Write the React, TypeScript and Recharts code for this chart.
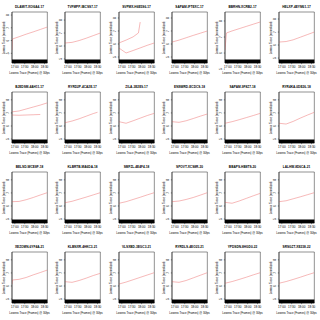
import React from "react";
import { LineChart, Line, XAxis, YAxis, ReferenceArea } from "recharts";

const TITLES = [
  "DLAMIT-XOI6A4-17", "TVFMPP-IBCSS7-17", "SVPMX-H6E5S6-17", "SAPAM-IFTEXC-17", "BBRHN-XCRB2-17", "HELXP-4EYM61-17",
  "BJEDSM-4AH11-17", "RYRD2P-4CA2E-17", "ZILA-3E2E9-17", "ENSWRD-ECDCS-18", "SAPAM-9F8Z7-18", "RYR4KA-0DE26-18",
  "BELSD-WCE8F-18", "KLBRTB-MA6DA-18", "SMFZL-4E4F4-18", "SPOVT-XCS8R-20", "BBAPS-HB8TS-20", "LALHW-8D6CA-21",
  "XEZOMN-6YF4A-21", "KLBNXR-4HKC3-21", "VLSXBD-3EGC3-21", "RYRDLS-4EO23-21", "YPDSDN-8HGD0-22", "SRSGZT-XE238-22",
];

const Y_TICKS = [5, 6, 7, 8];
const X_TICKS = [8, 36, 64, 92];
const X_TICK_LABELS = ["17:00", "17:30", "18:00", "18:30"];
const X_LABEL = "Lowess Trace (Frames) @ 30fps";
const Y_LABEL = "Lowess Trace (normalized)";

const Y_DOMAINS: [number, number][] = [
  [4.24, 8.24], [4.69, 8.62], [4.54, 8.46], [4.54, 8.46], [5.38, 8.56], [4.62, 8.54],
  [4.7, 8.6], [4.7, 8.6], [4.7, 8.6], [4.7, 8.6], [4.7, 8.6], [4.7, 8.6],
  [4.7, 8.6], [4.7, 8.6], [4.7, 8.6], [4.7, 8.6], [4.7, 8.6], [4.7, 8.6],
  [4.7, 8.6], [4.7, 8.6], [4.7, 8.6], [4.7, 8.6], [4.7, 8.6], [4.7, 8.6],
];

type Pt = [number, number];

const LINE_A: Pt[][] = [
  [[0, 5.26], [1, 6.12], [20, 6.3], [40, 6.5], [60, 6.68], [80, 6.87], [100, 7.06]],
  [[0, 6.23], [20, 6.28], [40, 6.42], [60, 6.6], [80, 6.8], [100, 7.0]],
  [[0, 6.08], [20, 6.3], [40, 6.55], [55, 6.85], [60, 7.69]],
  [[0, 6.15], [20, 6.3], [40, 6.48], [60, 6.66], [80, 6.83], [100, 7.0]],
  [[0, 6.19], [4, 7.25], [20, 7.38], [40, 7.52], [60, 7.66], [80, 7.8], [100, 7.94]],
  [[0, 6.23], [20, 6.27], [40, 6.4], [60, 6.6], [80, 6.8], [100, 7.0]],
  [[0, 7.08], [20, 7.15], [40, 7.3], [60, 7.45], [80, 7.6], [100, 7.77]],
  [[0, 6.25], [20, 6.38], [40, 6.55], [60, 6.75], [80, 6.95], [92, 7.05]],
  [[0, 6.33], [20, 6.21], [40, 6.4], [60, 6.6], [80, 6.8], [100, 6.97]],
  [[0, 6.33], [20, 6.28], [40, 6.4], [60, 6.57], [80, 6.75], [100, 6.92]],
  [[0, 6.21], [20, 6.33], [40, 6.48], [60, 6.64], [80, 6.8], [100, 6.97]],
  [[0, 6.21], [20, 6.15], [40, 6.35], [60, 6.6], [80, 6.83], [100, 7.05]],
  [[0, 6.33], [20, 6.35], [40, 6.48], [60, 6.65], [80, 6.84], [100, 7.02]],
  [[0, 6.25], [20, 6.36], [40, 6.52], [60, 6.68], [80, 6.85], [100, 7.02]],
  [[0, 6.21], [20, 6.33], [40, 6.5], [60, 6.67], [80, 6.85], [100, 7.02]],
  [[0, 6.33], [20, 6.38], [40, 6.5], [60, 6.65], [80, 6.83], [100, 7.02]],
  [[0, 6.28], [20, 6.21], [40, 6.38], [60, 6.58], [80, 6.78], [100, 6.97]],
  [[0, 6.33], [20, 6.4], [40, 6.55], [60, 6.7], [80, 6.86], [100, 7.02]],
  [[0, 6.15], [1, 6.46], [20, 6.51], [40, 6.65], [60, 6.85], [80, 7.03], [100, 7.22]],
  [[0, 6.33], [20, 6.28], [40, 6.42], [60, 6.6], [80, 6.8], [100, 6.97]],
  [[0, 6.15], [20, 6.3], [40, 6.48], [60, 6.66], [80, 6.84], [100, 7.02]],
  [[0, 6.33], [20, 6.28], [40, 6.42], [60, 6.62], [80, 6.82], [100, 7.02]],
  [[0, 6.21], [20, 6.34], [40, 6.5], [60, 6.67], [80, 6.85], [100, 7.02]],
  [[0, 6.21], [20, 6.34], [40, 6.5], [60, 6.67], [80, 6.85], [100, 7.02]],
];

const LINE_B: (Pt[] | null)[] = [
  null, null,
  [[0, 5.69], [20, 5.31], [40, 5.5], [60, 5.7], [80, 5.9], [100, 6.08]],
  null, null, null,
  [[0, 6.84], [20, 6.82], [40, 6.84], [60, 6.86], [80, 6.88]],
  null, null, null, null, null,
  null, null, null, null, null, null,
  null, null, null, null, null, null,
];

const W = 320 / 6;
const H = 80;
const LINE_COLOR = "#f08a8a";
const FONT = "'Liberation Sans', Arial, sans-serif";

function YTick(props: any) {
  const { y, payload } = props;
  const x = 8.8;
  return (
    <text x={x} y={y} fontSize={3.2} fontFamily={FONT} fill="#000" textAnchor="middle"
      transform={`rotate(-90 ${x} ${y})`}>
      {payload.value}
    </text>
  );
}

function XTick(props: any) {
  const { x, payload } = props;
  const idx = X_TICKS.indexOf(payload.value);
  return (
    <text x={x} y={68} fontSize={3} fontFamily={FONT} fill="#000" textAnchor="middle">
      {X_TICK_LABELS[idx]}
    </text>
  );
}

function YLabel() {
  const x = 4.6;
  const y = 12 + 25.5;
  return (
    <text x={x} y={y} fontSize={2.8} fontFamily={FONT} fill="#000" textAnchor="middle"
      transform={`rotate(-90 ${x} ${y})`}>
      {Y_LABEL}
    </text>
  );
}

function XLabel() {
  return (
    <text x={29.5} y={74.5} fontSize={2.8} fontFamily={FONT} fill="#000" textAnchor="middle">
      {X_LABEL}
    </text>
  );
}

function Panel({ i }: { i: number }) {
  const col = i % 6;
  const row = Math.floor(i / 6);
  const dom = Y_DOMAINS[i];
  const a = LINE_A[i].map(([x, y]) => ({ x, y }));
  const bRaw = LINE_B[i];
  const b = bRaw ? bRaw.map(([x, y]) => ({ x, y })) : null;
  const rugTop = dom[0] + (dom[1] - dom[0]) * 0.07;
  return (
    <div style={{ position: "absolute", left: col * W, top: row * H, width: W, height: H }}>
      <svg width={W} height={10} style={{ position: "absolute", left: 0, top: 0 }}>
        <text x={29.5} y={7.5} fontSize={3.2} fontWeight="bold" fontFamily={FONT} textAnchor="middle" fill="#000">
          {TITLES[i]}
        </text>
      </svg>
      <LineChart width={W} height={H} data={a} margin={{ top: 12, right: 6, left: 0, bottom: 0 }}>
        <XAxis dataKey="x" type="number" domain={[0, 100]} ticks={X_TICKS} tick={<XTick />}
          tickSize={1.2} axisLine={{ stroke: "#000", strokeWidth: 0.5 }} tickLine={{ stroke: "#000", strokeWidth: 0.4 }}
          height={17} allowDataOverflow interval={0} label={<XLabel />} />
        <YAxis type="number" domain={dom} ticks={Y_TICKS} tick={<YTick />} width={12}
          tickSize={1.2} axisLine={{ stroke: "#000", strokeWidth: 0.5 }} tickLine={{ stroke: "#000", strokeWidth: 0.4 }}
          allowDataOverflow interval={0} label={<YLabel />} />
        <ReferenceArea x1={0} x2={100} y1={dom[0]} y2={dom[1]} fill="none" stroke="#222" strokeWidth={0.5} ifOverflow="visible" />
        <ReferenceArea x1={0} x2={100} y1={dom[0]} y2={rugTop} fill="#000" fillOpacity={1} stroke="none" ifOverflow="visible" />
        <Line data={a} dataKey="y" type="linear" stroke={LINE_COLOR} strokeWidth={0.6} dot={false} isAnimationActive={false} />
        {b && (
          <Line data={b} dataKey="y" type="linear" stroke={LINE_COLOR} strokeWidth={0.6} dot={false} isAnimationActive={false} />
        )}
      </LineChart>
    </div>
  );
}

export default function App() {
  return (
    <div style={{ position: "absolute", left: 0, top: 0, width: 320, height: 320, background: "#fff", overflow: "hidden" }}>
      {TITLES.map((_, i) => (
        <Panel key={i} i={i} />
      ))}
    </div>
  );
}
